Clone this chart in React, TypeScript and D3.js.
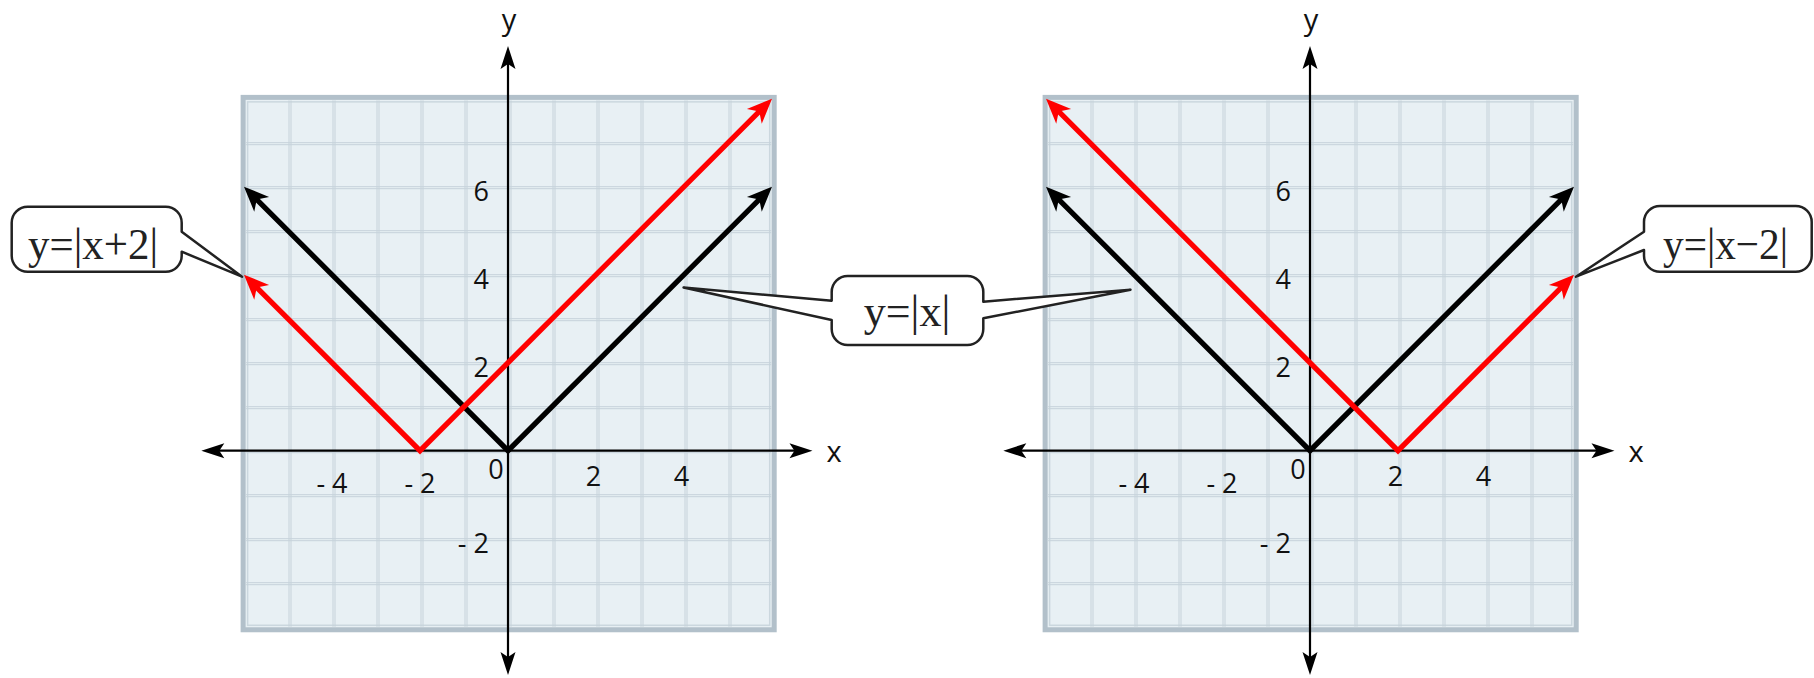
import React from 'react';
import * as d3 from 'd3';

// ---- data ----
const xTickValues = [-4, -2, 2, 4];
const yTickValues = [-2, 2, 4, 6];
const gridXValues = [-5, -4, -3, -2, -1, 0, 1, 2, 3, 4, 5];
const gridYValues = [-3, -2, -1, 0, 1, 2, 3, 4, 5, 6, 7];

const absX = [-6, 0, 6];
const absY = [6, 0, 6];
const plus2X = [-6, -2, 6];
const plus2Y = [4, 0, 8];
const minus2X = [-6, 2, 6];
const minus2Y = [8, 0, 4];

const labelPlus2 = 'y=|x+2|';
const labelAbs = 'y=|x|';
const labelMinus2 = 'y=|x\u22122|';

// ---- layout ----
const W = 1814;
const H = 678;
const UNIT = 44;
const OY = 450.7;
const ORIGINS = [508, 1310];

function makeScales(ox: number) {
  const x = d3.scaleLinear().domain([0, 1]).range([ox, ox + UNIT]);
  const y = d3.scaleLinear().domain([0, 1]).range([OY, OY - UNIT]);
  return { x, y };
}

function headPath(tip: [number, number], from: [number, number], L: number, Wd: number, N: number) {
  const dx = tip[0] - from[0];
  const dy = tip[1] - from[1];
  const len = Math.hypot(dx, dy);
  const ux = dx / len, uy = dy / len;
  const px = -uy, py = ux;
  const bx = tip[0] - ux * L, by = tip[1] - uy * L;
  const nx = tip[0] - ux * N, ny = tip[1] - uy * N;
  return `M${tip[0]},${tip[1]}L${bx + px * Wd},${by + py * Wd}L${nx},${ny}L${bx - px * Wd},${by - py * Wd}Z`;
}

function trim(tip: [number, number], from: [number, number], d: number): [number, number] {
  const dx = tip[0] - from[0];
  const dy = tip[1] - from[1];
  const len = Math.hypot(dx, dy);
  return [tip[0] - (dx / len) * d, tip[1] - (dy / len) * d];
}

function Series({ xs, ys, sx, sy, color }: any) {
  const pts: [number, number][] = xs.map((v: number, i: number) => [sx(v), sy(ys[i])]);
  const n = pts.length;
  const startTip = pts[0];
  const endTip = pts[n - 1];
  const inner = pts.slice(1, n - 1);
  const s = trim(startTip, pts[1], 15);
  const e = trim(endTip, pts[n - 2], 15);
  const line = d3.line()([s, ...inner, e]) as string;
  return (
    <g>
      <path d={line} fill="none" stroke={color} strokeWidth={5.2} strokeLinejoin="miter" />
      <path d={headPath(startTip, pts[1], 25, 10.5, 18)} fill={color} />
      <path d={headPath(endTip, pts[n - 2], 25, 10.5, 18)} fill={color} />
    </g>
  );
}

function Panel({ ox, redX, redY }: any) {
  const { x, y } = makeScales(ox);
  const left = x(-6.02), right = x(6.05), top = y(8.03), bottom = y(-4.07);
  const axL: [number, number] = [x(-6.97), OY];
  const axR: [number, number] = [x(6.92), OY];
  const axT: [number, number] = [ox, y(9.2)];
  const axB: [number, number] = [ox, y(-5.1)];
  return (
    <g>
      <rect x={left} y={top} width={right - left} height={bottom - top} fill="#e8f0f4" stroke="#b2c0ca" strokeWidth={5} />
      <rect x={left + 4.5} y={top + 4.5} width={right - left - 9} height={bottom - top - 9} fill="none" stroke="#cbd7de" strokeWidth={1.5} />
      {gridXValues.map((v) => (
        <g key={'gx' + v}>
          <line x1={x(v) + 1} x2={x(v) + 1} y1={top + 3} y2={bottom - 3} stroke="#c6d2da" strokeWidth={1} />
          <line x1={x(v) + 3} x2={x(v) + 3} y1={top + 3} y2={bottom - 3} stroke="#c6d2da" strokeWidth={1} />
        </g>
      ))}
      {gridYValues.map((v) => (
        <g key={'gy' + v}>
          <line x1={left + 3} x2={right - 3} y1={y(v)} y2={y(v)} stroke="#c6d2da" strokeWidth={1} />
          <line x1={left + 3} x2={right - 3} y1={y(v) + 2} y2={y(v) + 2} stroke="#c6d2da" strokeWidth={1} />
        </g>
      ))}
      {/* axes */}
      <line x1={trim(axL, axR, 16)[0]} x2={trim(axR, axL, 16)[0]} y1={OY} y2={OY} stroke="#000" strokeWidth={2.2} />
      <line x1={ox} x2={ox} y1={trim(axT, axB, 16)[1]} y2={trim(axB, axT, 16)[1]} stroke="#000" strokeWidth={2.2} />
      <path d={headPath(axL, axR, 23, 7.5, 18)} fill="#000" />
      <path d={headPath(axR, axL, 23, 7.5, 18)} fill="#000" />
      <path d={headPath(axT, axB, 23, 7.5, 18)} fill="#000" />
      <path d={headPath(axB, axT, 23, 7.5, 18)} fill="#000" />
      {/* tick labels */}
      <g fontFamily="'Open Sans', sans-serif" fontSize={27} fill="#111">
        {xTickValues.map((v) => (
          <text key={'xt' + v} x={x(v) + (v > 0 ? -2.5 : 0)} y={OY + (v > 0 ? 35.5 : 42)} textAnchor="middle">
            {v < 0 ? '- ' + Math.abs(v) : String(v)}
          </text>
        ))}
        {yTickValues.map((v) => (
          <text key={'yt' + v} x={ox - 19} y={y(v) + 14} textAnchor="end">
            {v < 0 ? '- ' + Math.abs(v) : String(v)}
          </text>
        ))}
        <text x={ox - 12} y={OY + 28} textAnchor="middle">0</text>
      </g>
      <g fontFamily="'Open Sans', sans-serif" fontSize={29} fill="#111">
        <text x={ox + 326} y={OY + 11} textAnchor="middle">x</text>
        <text x={ox + 1} y={30} textAnchor="middle">y</text>
      </g>
      <Series xs={absX} ys={absY} sx={x} sy={y} color="#000" />
      <Series xs={redX} ys={redY} sx={x} sy={y} color="#ff0000" />
    </g>
  );
}

function calloutPath(x0: number, y0: number, x1: number, y1: number, r: number, leftTail: any, rightTail: any) {
  let d = `M${x0 + r},${y0}H${x1 - r}A${r},${r} 0 0 1 ${x1},${y0 + r}`;
  if (rightTail) {
    d += `V${rightTail.a}L${rightTail.tip[0]},${rightTail.tip[1]}L${x1},${rightTail.b}`;
  }
  d += `V${y1 - r}A${r},${r} 0 0 1 ${x1 - r},${y1}H${x0 + r}A${r},${r} 0 0 1 ${x0},${y1 - r}`;
  if (leftTail) {
    d += `V${leftTail.b}L${leftTail.tip[0]},${leftTail.tip[1]}L${x0},${leftTail.a}`;
  }
  d += `V${y0 + r}A${r},${r} 0 0 1 ${x0 + r},${y0}Z`;
  return d;
}

export default function App() {
  const L = makeScales(ORIGINS[0]);
  const R = makeScales(ORIGINS[1]);
  const tipPlus2: [number, number] = [L.x(-6) - 2, L.y(4) + 2];
  const tipMinus2: [number, number] = [R.x(6) + 2, R.y(4) + 2];
  const tipMidL: [number, number] = [L.x(3.99), L.y(3.71)];
  const tipMidR: [number, number] = [R.x(-4.08), R.y(3.66)];
  return (
    <svg width={W} height={H} style={{ position: 'absolute', left: 0, top: 0, display: 'block' }}>
      <rect width={W} height={H} fill="#fff" />
      <Panel ox={ORIGINS[0]} redX={plus2X} redY={plus2Y} />
      <Panel ox={ORIGINS[1]} redX={minus2X} redY={minus2Y} />
      <g fill="#fff" stroke="#222" strokeWidth={2.5} strokeLinejoin="round">
        <path d={calloutPath(11.7, 206.7, 181.7, 271.7, 16, null, { a: 231.7, b: 251.7, tip: tipPlus2 })} />
        <path d={calloutPath(831.7, 276, 983.3, 345, 16, { a: 300.7, b: 320, tip: tipMidL }, { a: 301.7, b: 318.3, tip: tipMidR })} />
        <path d={calloutPath(1644, 206, 1811.7, 271.7, 16, { a: 231.7, b: 250, tip: tipMinus2 }, null)} />
      </g>
      <g fontFamily="'Liberation Serif', 'Times New Roman', serif" fontSize={44} fill="#222">
        <text x={28} y={259} textLength={130} lengthAdjust="spacingAndGlyphs">{labelPlus2}</text>
        <text x={907} y={325.5} textAnchor="middle">{labelAbs}</text>
        <text x={1663} y={259} textLength={125} lengthAdjust="spacingAndGlyphs">{labelMinus2}</text>
      </g>
    </svg>
  );
}
